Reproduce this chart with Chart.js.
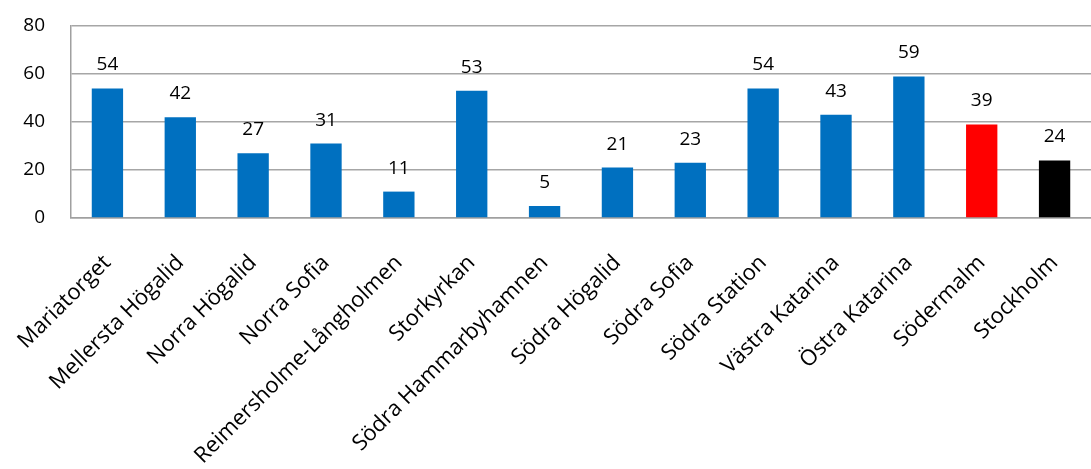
<!DOCTYPE html>
<html>
<head>
<meta charset="utf-8">
<script src="https://cdn.jsdelivr.net/npm/chart.js@4/dist/chart.umd.min.js"></script>
<style>
  html, body { margin: 0; padding: 0; background: #fff; }
  #wrap { width: 1091px; height: 469px; }
</style>
</head>
<body>
<div id="wrap"><canvas id="bar-chart"></canvas></div>
<script>
'use strict';

// categories and values
const areas = ['Mariatorget', 'Mellersta Högalid', 'Norra Högalid', 'Norra Sofia',
    'Reimersholme-Långholmen', 'Storkyrkan', 'Södra Hammarbyhamnen', 'Södra Högalid',
    'Södra Sofia', 'Södra Station', 'Västra Katarina', 'Östra Katarina',
    'Södermalm', 'Stockholm'];
const values = [54, 42, 27, 31, 11, 53, 5, 21, 23, 54, 43, 59, 39, 24];
const barColors = ['#0070C0', '#0070C0', '#0070C0', '#0070C0', '#0070C0', '#0070C0',
    '#0070C0', '#0070C0', '#0070C0', '#0070C0', '#0070C0', '#0070C0',
    '#FF0000', '#000000'];
const yTicks = [0, 20, 40, 60, 80];

const FONT = "'Open Sans', 'Noto Sans', sans-serif";

// simple value labels above each bar
const valueLabels = {
    id: 'valueLabels',
    afterDatasetsDraw(chart) {
        const ctx = chart.ctx;
        const meta = chart.getDatasetMeta(0);
        ctx.save();
        ctx.font = '19px ' + FONT;
        ctx.fillStyle = '#000';
        ctx.textAlign = 'center';
        ctx.textBaseline = 'bottom';
        meta.data.forEach((bar, i) => {
            ctx.fillText(values[i], bar.x, bar.y - 14);
        });
        ctx.restore();
    }
};

const barChart = new Chart(document.querySelector('#bar-chart'), {
    type: 'bar',
    data: {
        labels: areas,
        datasets: [{
            data: values,
            backgroundColor: barColors,
            barPercentage: 0.43,
            categoryPercentage: 1.0
        }]
    },
    options: {
        responsive: true,
        maintainAspectRatio: false,
        animation: false,
        layout: {
            padding: {top: 26, left: 0, right: 0, bottom: 0}
        },
        plugins: {
            legend: {display: false},
            tooltip: {enabled: false}
        },
        scales: {
            x: {
                // fixed height, long labels run off the bottom edge like in the original
                afterFit: axis => {
                    axis.height = 251;
                    axis.paddingLeft = 0;
                    axis.paddingRight = 0;
                },
                grid: {display: false, drawTicks: false},
                border: {display: true, color: '#a0a0a0', width: 1.5},
                ticks: {
                    color: '#000',
                    font: {family: FONT, size: 22},
                    minRotation: 45,
                    maxRotation: 45,
                    autoSkip: false,
                    padding: 32
                }
            },
            y: {
                min: 0,
                max: 80,
                afterBuildTicks: axis => {
                    axis.ticks = yTicks.map(v => ({value: v}));
                },
                afterFit: axis => {
                    axis.width = 71;
                    axis.paddingTop = 0;
                    axis.paddingBottom = 0;
                },
                grid: {color: '#a6a6a6', lineWidth: 1.5, drawTicks: false},
                border: {display: true, color: '#a0a0a0', width: 1.5},
                ticks: {
                    color: '#000',
                    font: {family: FONT, size: 19},
                    padding: 26
                }
            }
        }
    },
    plugins: [valueLabels]
});
</script>
</body>
</html>
